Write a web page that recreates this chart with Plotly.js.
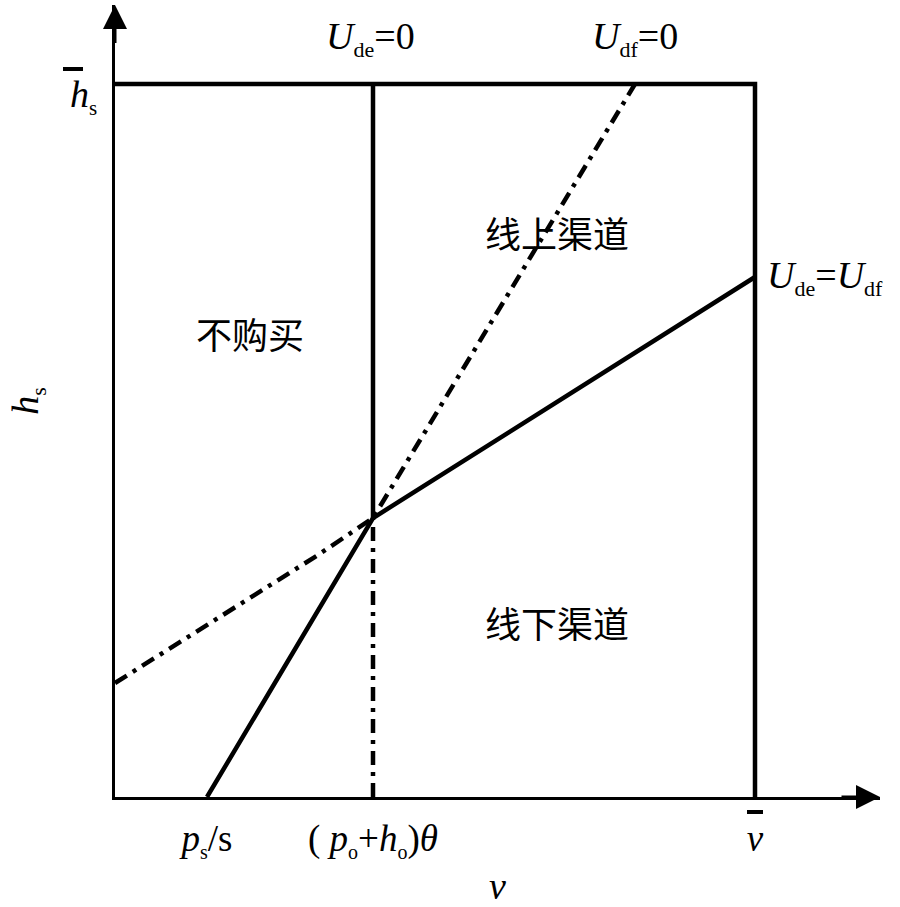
<!DOCTYPE html>
<html>
<head>
<meta charset="utf-8">
<script src="https://cdn.plot.ly/plotly-3.0.1.min.js"></script>
<style>
  html, body { margin: 0; padding: 0; background: #fff; }
  #chart { width: 900px; height: 907px; }
</style>
</head>
<body>
<div id="chart"></div>
<script>
// Domain of the diagram: valuation v on x, hassle cost h_s on y
const vMax = 640;          // upper bound of v
const hMax = 713;          // upper bound of h_s
const vEnd = 765;          // end of the v axis arrow
const hEnd = 792;          // end of the h_s axis arrow

// Kink point where U_de = 0, U_df = 0 and U_de = U_df meet
const vCross = 258;
const hCross = 279;

// U_de = U_df boundary (solid)
const indiffV = [92, vCross, vMax];
const indiffH = [0, hCross, 520];

// U_df = 0 boundary (dash-dot)
const udfV = [0, 118, 203, vCross, 362, 412, 520];
const udfH = [114, 189, 242, hCross, 452, 535, hMax];

// Tick labels on the v axis
const xTickVals = [92, vCross, vMax];
const xTickText = [
  '<i>p</i><sub><span style="font-size:20px">s</span></sub>/s',
  '( <i>p</i><sub><span style="font-size:20px">o</span></sub>+<i>h</i><sub><span style="font-size:20px">o</span></sub>)<i>θ</i>',
  '<i>v</i>'
];
// Label of the h_s upper bound
const yBoundText = '<i>h</i><sub><span style="font-size:21px">s</span></sub>';

const serif = 'Liberation Serif, Times New Roman, serif';
const cjk = 'Noto Sans CJK SC, sans-serif';
const ink = '#000';
const dashDot = '14px,7px,4px,7px';
const lw = 4.5;

const traces = [
  { // top and right edges of the feasible region
    x: [0, vMax, vMax], y: [hMax, hMax, 0],
    mode: 'lines', line: { color: ink, width: lw }, cliponaxis: false
  },
  { // U_de = 0, above the kink
    x: [vCross, vCross], y: [hCross, hMax],
    mode: 'lines', line: { color: ink, width: lw }, cliponaxis: false
  },
  { // U_de = 0, below the kink
    x: [vCross, vCross], y: [0, hCross],
    mode: 'lines', line: { color: ink, width: lw, dash: dashDot }, cliponaxis: false
  },
  { // U_de = U_df
    x: indiffV, y: indiffH,
    mode: 'lines', line: { color: ink, width: lw }, cliponaxis: false
  },
  { // U_df = 0
    x: udfV, y: udfH,
    mode: 'lines', line: { color: ink, width: lw, dash: dashDot }, cliponaxis: false
  }
];

const mathFont = { family: serif, size: 38, color: ink };
const sub = s => '<sub><span style="font-size:22px">' + s + '</span></sub>';
const cjkFont = { family: cjk, size: 36, color: ink };

// arrow heads at the ends of both axes
const arrowHead = {
  xref: 'x', yref: 'y', axref: 'x', ayref: 'y', showarrow: true,
  arrowhead: 2, arrowsize: 1.6, arrowwidth: 3, arrowcolor: ink, standoff: 0,
  text: ' ', font: { size: 1 }
};

const annotations = [
  Object.assign({}, arrowHead, { x: vEnd, y: 0, ax: vEnd - 40, ay: 0 }),
  Object.assign({}, arrowHead, { x: 0, y: hEnd, ax: 0, ay: hEnd - 40 }),
  // label of the h_s upper bound
  { x: 0, y: hMax, xref: 'x', yref: 'y', showarrow: false, xanchor: 'right',
    xshift: -16, yshift: -12, font: mathFont, text: yBoundText },
  // boundary labels
  { x: 255, y: 759, xref: 'x', yref: 'y', showarrow: false, font: mathFont,
    text: '<i>U</i>' + sub('de') + '=0' },
  { x: 520, y: 759, xref: 'x', yref: 'y', showarrow: false, font: mathFont,
    text: '<i>U</i>' + sub('df') + '=0' },
  { x: 650, y: 520, xref: 'x', yref: 'y', showarrow: false, xanchor: 'left', font: mathFont,
    text: '<i>U</i>' + sub('de') + '=<i>U</i>' + sub('df') },
  // regions
  { x: 135, y: 464, xref: 'x', yref: 'y', showarrow: false, font: cjkFont, text: '不购买' },
  { x: 442, y: 565, xref: 'x', yref: 'y', showarrow: false, font: cjkFont, text: '线上渠道' },
  { x: 442, y: 175, xref: 'x', yref: 'y', showarrow: false, font: cjkFont, text: '线下渠道' }
];

// bars over the v and h_s upper bounds (paper-referenced so they sit outside the plot area)
const shapes = [
  { type: 'line', xref: 'paper', yref: 'paper', xsizemode: 'pixel', ysizemode: 'pixel',
    xanchor: vMax / vEnd, yanchor: 0, x0: -8, x1: 8, y0: -15, y1: -15,
    line: { color: ink, width: 4 } },
  { type: 'line', xref: 'paper', yref: 'paper', xsizemode: 'pixel', ysizemode: 'pixel',
    xanchor: 0, yanchor: hMax / hEnd, x0: -52, x1: -32, y0: 15, y1: 15,
    line: { color: ink, width: 4 } }
];

const layout = {
  width: 900, height: 907,
  margin: { l: 115, r: 20, t: 5, b: 110 },
  paper_bgcolor: '#fff', plot_bgcolor: '#fff',
  showlegend: false,
  xaxis: {
    range: [0, vEnd], showgrid: false, zeroline: false,
    showline: true, linecolor: ink, linewidth: 3,
    tickmode: 'array', tickvals: xTickVals, ticktext: xTickText,
    ticks: '', ticklabelstandoff: 7,
    tickfont: { family: serif, size: 37, color: ink },
    title: { text: '<i>v</i>', font: { family: serif, size: 38, color: ink }, standoff: 14 }
  },
  yaxis: {
    range: [0, hEnd], showgrid: false, zeroline: false,
    showline: true, linecolor: ink, linewidth: 3,
    showticklabels: false, ticks: '',
    title: { text: '<i>h</i><sub><span style="font-size:22px">s</span></sub>',
             font: { family: serif, size: 38, color: ink }, standoff: 62 }
  },
  annotations: annotations,
  shapes: shapes
};

Plotly.newPlot('chart', traces, layout, { staticPlot: true, displayModeBar: false });
</script>
</body>
</html>
